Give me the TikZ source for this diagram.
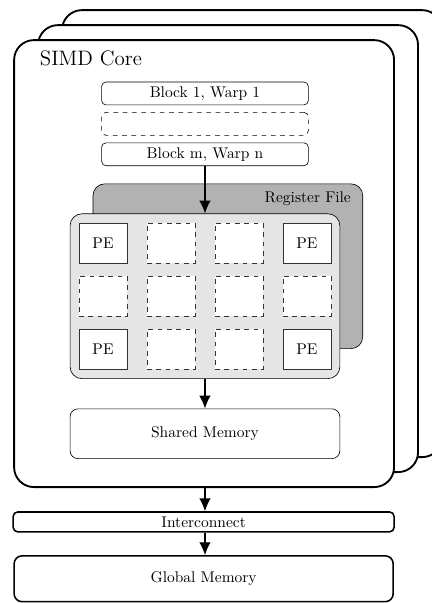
\documentclass[tikz,border=0pt]{standalone}
\usetikzlibrary{arrows.meta}
\begin{document}
\begin{tikzpicture}
[
  core/.style={draw,line width=1.2pt,rounded corners=0.45cm,fill=white,minimum width=8.62cm,minimum height=10.14cm,inner sep=0pt},
  warp/.style={draw,rounded corners=0.1cm,fill=white,minimum width=4.69cm,minimum height=0.52cm,inner sep=0pt},
  panel/.style={draw,rounded corners=0.27cm,minimum width=6.12cm,minimum height=3.74cm,inner sep=0pt},
  pe/.style={draw=black!80,fill=white,minimum width=1.09cm,minimum height=0.91cm,inner sep=0pt},
  idle/.style={pe,dashed},
  mem/.style={draw,rounded corners=0.18cm,fill=white,inner sep=0pt},
  flow/.style={-{Latex[length=2.9mm,width=2.6mm]},thick}
]

\useasboundingbox (0,0) rectangle (9.80,-13.68);

% Stacked cores
\foreach \i in {2,1} {
  \node [core] (core\i) at ({4.63+0.544*\i},{-5.98+0.34*\i}) {};
}
\node [core] (core) at (4.63,-5.98) {};
\node [anchor=base west,inner sep=0pt,font=\fontsize{13.5}{16}\selectfont] (title) at ([shift={(0.6,-0.59)}]core.north west) {SIMD Core};

% Warps
\node [warp] (warp1) at (4.65,-2.12) {Block 1, Warp 1};
\node [warp,dashed] (warpk) at (4.65,-2.81) {};
\node [warp] (warpn) at (4.65,-3.50) {Block m, Warp n};

% Register file and PE array
\node [panel,fill=gray!60] (rf) at (5.17,-6.04) {};
\node [anchor=base east,inner sep=0pt] (rflabel) at ([shift={(-0.27,-0.43)}]rf.north east) {Register File};
\node [panel,fill=gray!20] (panel) at (4.65,-6.72) {};

% Grid of PEs
\foreach \r/\y in {1/1.2,3/-1.2} {
  \foreach \c/\x in {1/-2.313,4/2.313} {
    \node [pe] (pe\r\c) at ([shift={(\x,\y)}]panel.center) {PE};
  }
  \foreach \c/\x in {2/-0.771,3/0.771} {
    \node [idle] (pe\r\c) at ([shift={(\x,\y)}]panel.center) {};
  }
}
\foreach \c/\x in {1/-2.313,2/-0.771,3/0.771,4/2.313} {
  \node [idle] (pe2\c) at ([shift={(\x,0)}]panel.center) {};
}

% Memories
\node [mem,minimum width=6.12cm,minimum height=1.13cm] (shared) at (4.65,-9.84) {Shared Memory};
\node [mem,line width=1pt,rounded corners=0.1cm,minimum width=8.64cm,minimum height=0.45cm] (inter) at (4.62,-11.84) {Interconnect};
\node [mem,line width=1pt,minimum width=8.60cm,minimum height=1.04cm] (global) at (4.62,-13.13) {Global Memory};

% Data flow
\draw [flow] (warpn) -- (panel);
\draw [flow] (panel) -- (shared);
\draw [flow] (shared.south |- core.south) -- (shared.south |- inter.north);
\draw [flow] (shared.south |- inter.south) -- (shared.south |- global.north);

\end{tikzpicture}
\end{document}
